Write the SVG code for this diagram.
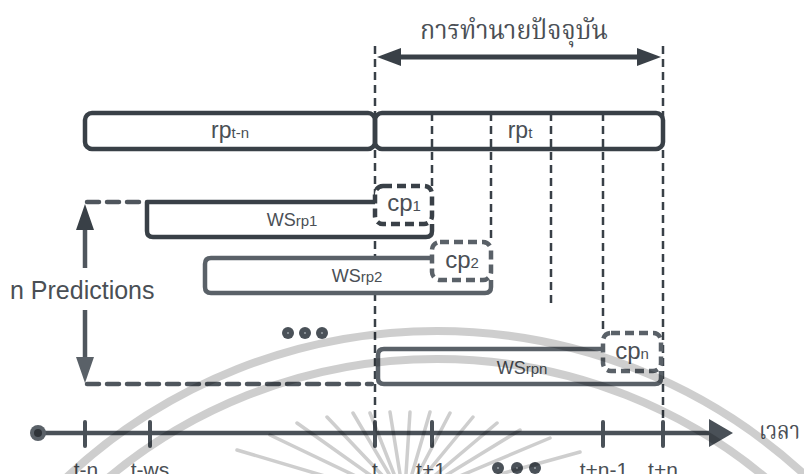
<svg xmlns="http://www.w3.org/2000/svg" width="804" height="474" viewBox="0 0 804 474">
<style>
.wm{fill:none;stroke:#000;stroke-width:8}
.ray{fill:none;stroke:#000;stroke-width:3.5;stroke-linecap:round}
.bar{fill:none;stroke:#394047;stroke-width:4.5;stroke-linejoin:round}
.ws{fill:#fff;stroke:#394047;stroke-width:4.5;stroke-linejoin:round}
.ws2{fill:#fff;stroke:#5a6168;stroke-width:4.5;stroke-linejoin:round}
.cp{fill:#fff;stroke:#394047;stroke-width:4.5;stroke-dasharray:9 5}
.cp2{fill:#fff;stroke:#5a6168;stroke-width:4.5;stroke-dasharray:9 5}
.vd{fill:none;stroke:#394047;stroke-width:2.5;stroke-dasharray:8 5}
.hd{fill:none;stroke:#4f565d;stroke-width:4.5;stroke-dasharray:12 8;stroke-linecap:round}
.axis{stroke:#4a5158;stroke-width:4.5;fill:none}
.tick{stroke:#4a5158;stroke-width:4;stroke-linecap:round}
.txt{font-family:"Liberation Sans",Arial,sans-serif;fill:#4a4f55}
.th{font-family:"Noto Serif Thai","Noto Sans Thai","Garuda","Loma",serif;fill:#4a4f55}
.dot{fill:#4a5158}
.dc{fill:#9aa0a6}
</style>
<g id="connectors">
<line class="vd" x1="375" y1="46" x2="375" y2="433"/>
<line class="vd" x1="663" y1="46" x2="663" y2="433"/>
<line class="vd" x1="432" y1="113" x2="432" y2="186"/>
<line class="vd" x1="491" y1="113" x2="491" y2="242"/>
<line class="vd" x1="551" y1="113" x2="551" y2="308"/>
<line class="vd" x1="603" y1="113" x2="603" y2="333"/>
<g id="double-arrow">
<line x1="395" y1="57" x2="643" y2="57" stroke="#394047" stroke-width="5"/>
<polygon points="377,57 401,48 401,66" fill="#394047"/>
<polygon points="661,57 637,48 637,66" fill="#394047"/>
</g>
<g id="n-arrow">
<line x1="85" y1="228" x2="85" y2="268" stroke="#4f565d" stroke-width="4.5"/>
<polygon points="85,204 76,230 94,230" fill="#394047"/>
<line x1="85" y1="310" x2="85" y2="360" stroke="#4f565d" stroke-width="4.5"/>
<polygon points="85,383 76,357 94,357" fill="#5a6168"/>
<path class="hd" d="M 87 202 H 145"/>
<path class="hd" d="M 87 384 H 372"/>
</g>
<g id="time-axis">
<line class="axis" x1="38" y1="433" x2="712" y2="433"/>
<polygon points="709,419 733,433 709,447" fill="#4a5158"/>
<circle cx="38" cy="433" r="8" fill="#5a6168"/>
<circle cx="38" cy="433" r="4" fill="#2f3439"/>
<line class="tick" x1="85" y1="422" x2="85" y2="446"/>
<line class="tick" x1="150" y1="422" x2="150" y2="446"/>
<line class="tick" x1="375" y1="422" x2="375" y2="446"/>
<line class="tick" x1="432" y1="422" x2="432" y2="446"/>
<line class="tick" x1="603" y1="422" x2="603" y2="446"/>
<line class="tick" x1="663" y1="422" x2="663" y2="446"/>
</g>
</g>
<g id="rp-tn">
<rect class="bar" x="85" y="113" width="290" height="36" rx="7"/>
<text class="txt" x="230" y="138" text-anchor="middle" font-size="23">rp<tspan font-size="15">t-n</tspan></text>
</g>
<g id="rp-t">
<rect class="bar" x="375" y="113" width="288" height="36" rx="7"/>
<text class="txt" x="520" y="138" text-anchor="middle" font-size="23">rp<tspan font-size="15">t</tspan></text>
</g>
<g id="ws-rp1">
<path class="ws" d="M 375 202 H 147 V 231 Q 147 237 153 237 H 426 Q 432 237 432 231 V 224"/>
<text class="txt" x="292" y="226" text-anchor="middle" font-size="18">WS<tspan font-size="15">rp1</tspan></text>
</g>
<g id="cp1">
<rect class="cp" x="375" y="186" width="57" height="38" rx="8"/>
<text class="txt" x="404" y="211" text-anchor="middle" font-size="24">cp<tspan font-size="15">1</tspan></text>
</g>
<g id="ws-rp2">
<path class="ws2" d="M 432 258 H 211 Q 205 258 205 264 V 287 Q 205 293 211 293 H 485 Q 491 293 491 287 V 280"/>
<text class="txt" x="357" y="282" text-anchor="middle" font-size="18">WS<tspan font-size="15">rp2</tspan></text>
</g>
<g id="cp2">
<rect class="cp2" x="432" y="242" width="59" height="38" rx="8"/>
<text class="txt" x="462" y="268" text-anchor="middle" font-size="24">cp<tspan font-size="15">2</tspan></text>
</g>
<g id="ws-rpn">
<path class="ws2" d="M 603 349 H 384 Q 378 349 378 355 V 378 Q 378 384 384 384 H 655 Q 661 384 661 378 V 371"/>
<text class="txt" x="522" y="374" text-anchor="middle" font-size="18">WS<tspan font-size="15">rpn</tspan></text>
</g>
<g id="cpn">
<rect class="cp2" x="603" y="333" width="58" height="38" rx="8"/>
<text class="txt" x="632" y="359" text-anchor="middle" font-size="24">cp<tspan font-size="15">n</tspan></text>
</g>
<g id="labels">
<text class="th" x="420" y="39" font-size="27" textLength="188" lengthAdjust="spacingAndGlyphs">การทำนายปัจจุบัน</text>
<text class="th" x="759" y="439" font-size="25" textLength="41" lengthAdjust="spacingAndGlyphs">เวลา</text>
<text class="txt" x="10" y="299" font-size="25">n Predictions</text>
<circle class="dot" cx="288" cy="333" r="6"/><circle class="dc" cx="288" cy="333" r="1"/>
<circle class="dot" cx="305" cy="333" r="6"/><circle class="dc" cx="305" cy="333" r="1"/>
<circle class="dot" cx="322" cy="333" r="6"/><circle class="dc" cx="322" cy="333" r="1"/>
<g font-size="21" class="txt" text-anchor="middle">
<text x="86" y="477">t-n</text>
<text x="150" y="477">t-ws</text>
<text x="375" y="477">t</text>
<text x="431" y="477">t+1</text>
<text x="604" y="477">t+n-1</text>
<text x="663" y="477">t+n</text>
</g>
<circle class="dot" cx="498" cy="468" r="6"/><circle class="dc" cx="498" cy="468" r="1"/>
<circle class="dot" cx="517" cy="468" r="6"/><circle class="dc" cx="517" cy="468" r="1"/>
<circle class="dot" cx="535" cy="468" r="6"/><circle class="dc" cx="535" cy="468" r="1"/>
</g>
<g id="watermark" opacity="0.19">
<circle class="wm" cx="437" cy="873" r="542"/>
<circle class="wm" cx="437" cy="873" r="514"/>
<g class="ray">
<line x1="237" y1="450" x2="355" y2="485"/>
<line x1="270" y1="435" x2="364" y2="480"/>
<line x1="297" y1="423" x2="373" y2="477"/>
<line x1="327" y1="417" x2="382" y2="475"/>
<line x1="353" y1="413" x2="389" y2="474"/>
<line x1="370" y1="413" x2="394" y2="474"/>
<line x1="390" y1="412" x2="400" y2="474"/>
<line x1="410" y1="412" x2="406" y2="474"/>
<line x1="430" y1="412" x2="412" y2="474"/>
<line x1="450" y1="413" x2="418" y2="474"/>
<line x1="473" y1="417" x2="425" y2="475"/>
<line x1="497" y1="423" x2="433" y2="477"/>
<line x1="520" y1="430" x2="440" y2="479"/>
<line x1="550" y1="438" x2="448" y2="481"/>
<line x1="580" y1="452" x2="457" y2="486"/>
</g>
</g>
</svg>
